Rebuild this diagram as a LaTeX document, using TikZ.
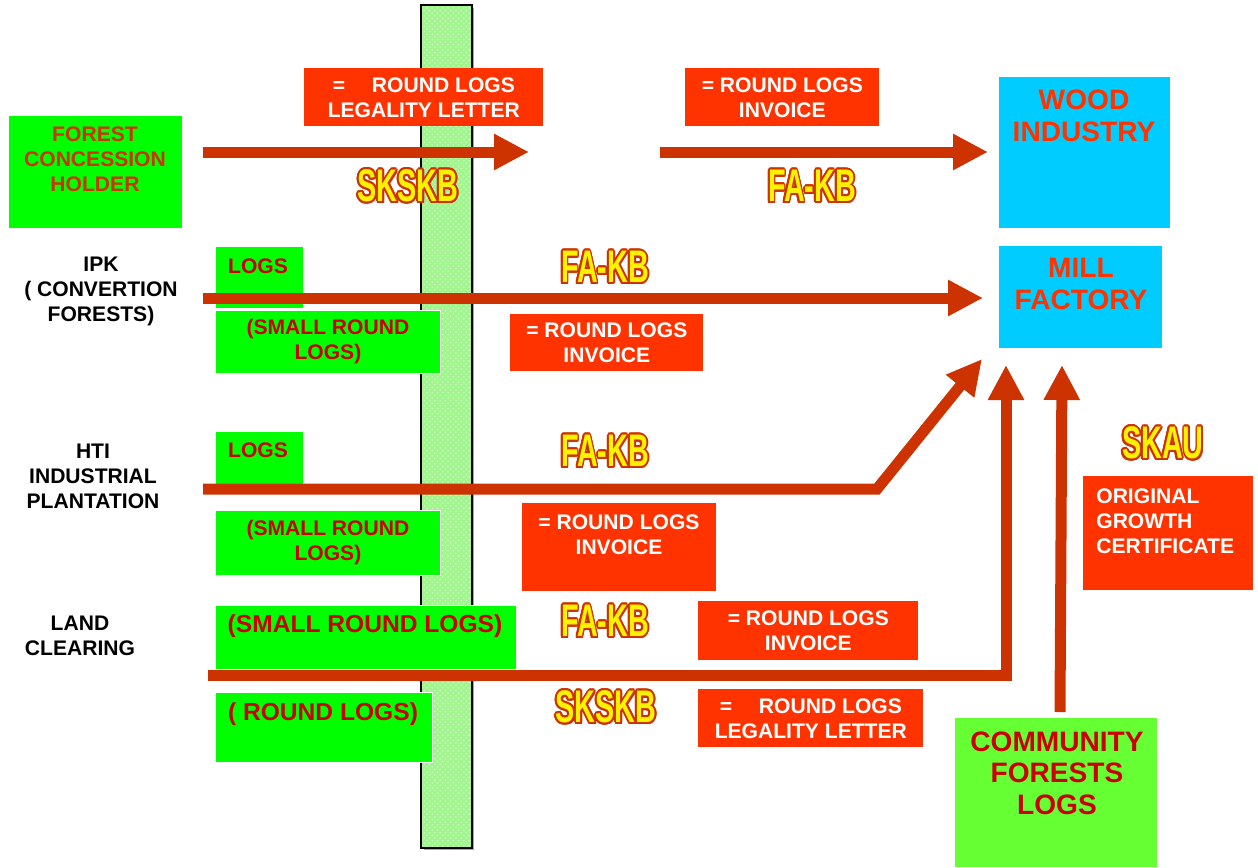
\documentclass[tikz,border=0pt]{standalone}
\usepackage{fontspec}
\setmainfont{Liberation Sans}
\newfontfamily\stampfont{Liberation Sans}[UprightFont=* Bold, FakeStretch=0.63]
\usepackage[copies]{contour}
\contourlength{1.1pt}
\usetikzlibrary{arrows.meta,patterns}

\definecolor{flowred}{RGB}{204,51,0}
\definecolor{boxred}{RGB}{255,51,0}
\definecolor{logred}{RGB}{204,0,0}
\definecolor{boxgreen}{RGB}{0,255,0}
\definecolor{commgreen}{RGB}{102,255,51}
\definecolor{boxblue}{RGB}{0,204,255}
\definecolor{bargreen}{RGB}{160,245,140}

\tikzset{
	greenbox/.style={fill=boxgreen, draw=white, line width=0.5pt, anchor=north west, inner sep=0pt, text=logred, align=center, font=\bfseries\fontsize{12}{14.2}\selectfont},
	redbox/.style={fill=boxred, anchor=north west, inner sep=0pt, text=white, align=center, font=\bfseries\fontsize{12}{14.2}\selectfont},
	bluebox/.style={fill=boxblue, anchor=north west, inner sep=0pt},
	boxtext/.style={inner sep=0pt, align=center, font=\bfseries\fontsize{12}{14.2}\selectfont},
	logtext/.style={inner sep=0pt, text=logred, font=\bfseries\fontsize{14}{16}\selectfont},
	bigtext/.style={inner sep=0pt, align=center, font=\bfseries\fontsize{16}{18}\selectfont},
	sidetext/.style={inner sep=0pt, align=center, text=black, font=\bfseries\fontsize{12}{14.2}\selectfont},
	stamptext/.style={inner sep=0pt, text=yellow, font=\stampfont\fontsize{26}{26}\selectfont},
	flow/.style={draw=flowred, line width=0.22cm, -{Triangle[length=0.7cm,width=0.68cm]}},
	bar/.style={draw=black, line width=1.2pt, preaction={fill=bargreen}, pattern=crosshatch dots, pattern color=white!55!bargreen}
}

\begin{document}
\begin{tikzpicture}[x=0.02cm, y=-0.02cm]
	%%%%% START %%%%%
	\useasboundingbox (0,0) rectangle (1258,867);

	% checkpoint bar
	\fill[black!35] (424,8) rectangle (474,850);
	\draw[bar] (421,5) rectangle (472,848);

	% forest concession row
	\node[greenbox, minimum width=3.48cm, minimum height=2.26cm] (fch) at (8,115) {};
	\node[boxtext, text=flowred] (fchtxt) at (95,159) {FOREST\\CONCESSION\\HOLDER};
	\node[redbox, minimum width=4.78cm, minimum height=1.16cm] (skltop) at (304,68) {=\quad\ ROUND LOGS\\LEGALITY LETTER};
	\node[redbox, minimum width=3.88cm, minimum height=1.16cm] (invtop) at (685,68) {= ROUND LOGS\\INVOICE};
	\node[bluebox, minimum width=3.42cm, minimum height=3.02cm] (wood) at (999,77) {};
	\node[bigtext, text=boxred] (woodtxt) at (1084,116) {WOOD\\INDUSTRY};
	\node[bluebox, minimum width=3.26cm, minimum height=2.04cm] (mill) at (999,246) {};
	\node[bigtext, text=boxred] (milltxt) at (1081,284) {MILL\\FACTORY};

	% sources on the left
	\node[sidetext] (ipk) at (101,291) {IPK\\( CONVERTION\\FORESTS)};
	\node[sidetext] (hti) at (93,476) {HTI\\INDUSTRIAL\\PLANTATION};
	\node[sidetext] (lc) at (80,636) {LAND\\CLEARING};

	% ipk row
	\node[greenbox, minimum width=1.76cm, minimum height=1.24cm] (ipklogs) at (215,246) {};
	\node[boxtext, text=logred] (ipklogstxt) at (258,266) {LOGS};
	\node[greenbox, minimum width=4.5cm, minimum height=1.26cm] (ipksmall) at (215,310) {(SMALL ROUND\\LOGS)};
	\node[redbox, minimum width=3.86cm, minimum height=1.14cm] (invipk) at (510,314) {= ROUND LOGS\\INVOICE};

	% hti row
	\node[greenbox, minimum width=1.76cm, minimum height=1.08cm] (htilogs) at (215,431) {};
	\node[boxtext, text=logred] (htilogstxt) at (258,450) {LOGS};
	\node[greenbox, minimum width=4.5cm, minimum height=1.3cm] (htismall) at (215,510) {(SMALL ROUND\\LOGS)};
	\node[redbox, minimum width=3.88cm, minimum height=1.76cm] (invhti) at (522,503) {};
	\node[boxtext, text=white] (invhtitxt) at (619,535) {= ROUND LOGS\\INVOICE};

	% land clearing row
	\node[greenbox, minimum width=6.02cm, minimum height=1.28cm] (lcsmall) at (215,605) {};
	\node[logtext] (lcsmalltxt) at (365,626) {(SMALL ROUND LOGS)};
	\node[greenbox, minimum width=4.34cm, minimum height=1.4cm] (lcround) at (215,692) {};
	\node[logtext] (lcroundtxt) at (323,714) {( ROUND LOGS)};
	\node[redbox, minimum width=4.4cm, minimum height=1.18cm] (invlc) at (698,601) {= ROUND LOGS\\INVOICE};
	\node[redbox, minimum width=4.5cm, minimum height=1.16cm] (skllc) at (698,689) {=\quad\ ROUND LOGS\\LEGALITY LETTER};

	% right side
	\node[redbox, minimum width=3.4cm, minimum height=2.28cm] (origin) at (1083,476) {};
	\node[boxtext, text=white, align=left, anchor=west] (origintxt) at (1096,521) {ORIGINAL\\GROWTH\\CERTIFICATE};
	\node[greenbox, fill=commgreen, draw=none, minimum width=4.04cm, minimum height=2.98cm] (comm) at (955,718) {};
	\node[bigtext, text=logred] (commtxt) at (1057,773) {COMMUNITY\\FORESTS\\LOGS};

	% flows
	\coordinate (fchout) at (203,152);
	\coordinate (skltip) at (529,152);
	\coordinate (invout) at (660,152);
	\coordinate (woodtip) at (988,152);
	\coordinate (ipkout) at (203,298);
	\coordinate (milltipa) at (983,298);
	\coordinate (htiout) at (203,489);
	\coordinate (htibend) at (877,489);
	\coordinate (milltipb) at (982,359);
	\coordinate (lcout) at (208,675);
	\coordinate (milltipc) at (1006,365);
	\coordinate (commout) at (1060,712);
	\coordinate (milltipd) at (1062,365);

	\draw[flow] (fchout) -- (skltip);
	\draw[flow] (invout) -- (woodtip);
	\draw[flow] (ipkout) -- (milltipa);
	\draw[flow] (htiout) -- (htibend) -- (milltipb);
	\draw[flow] (lcout) -| (milltipc);
	\draw[flow] (commout) -- (milltipd);

	% document stamps
	\node[stamptext] (sk1) at (408,187) {\contour{flowred}{SKSKB}};
	\node[stamptext] (fa1) at (812,187) {\contour{flowred}{FA-KB}};
	\node[stamptext] (fa2) at (605,268) {\contour{flowred}{FA-KB}};
	\node[stamptext] (fa3) at (605,452) {\contour{flowred}{FA-KB}};
	\node[stamptext] (fa4) at (605,622) {\contour{flowred}{FA-KB}};
	\node[stamptext] (sk2) at (606,708) {\contour{flowred}{SKSKB}};
	\node[stamptext] (skau) at (1163,444) {\contour{flowred}{SKAU}};

	%%%%% END %%%%%
\end{tikzpicture}
\end{document}
